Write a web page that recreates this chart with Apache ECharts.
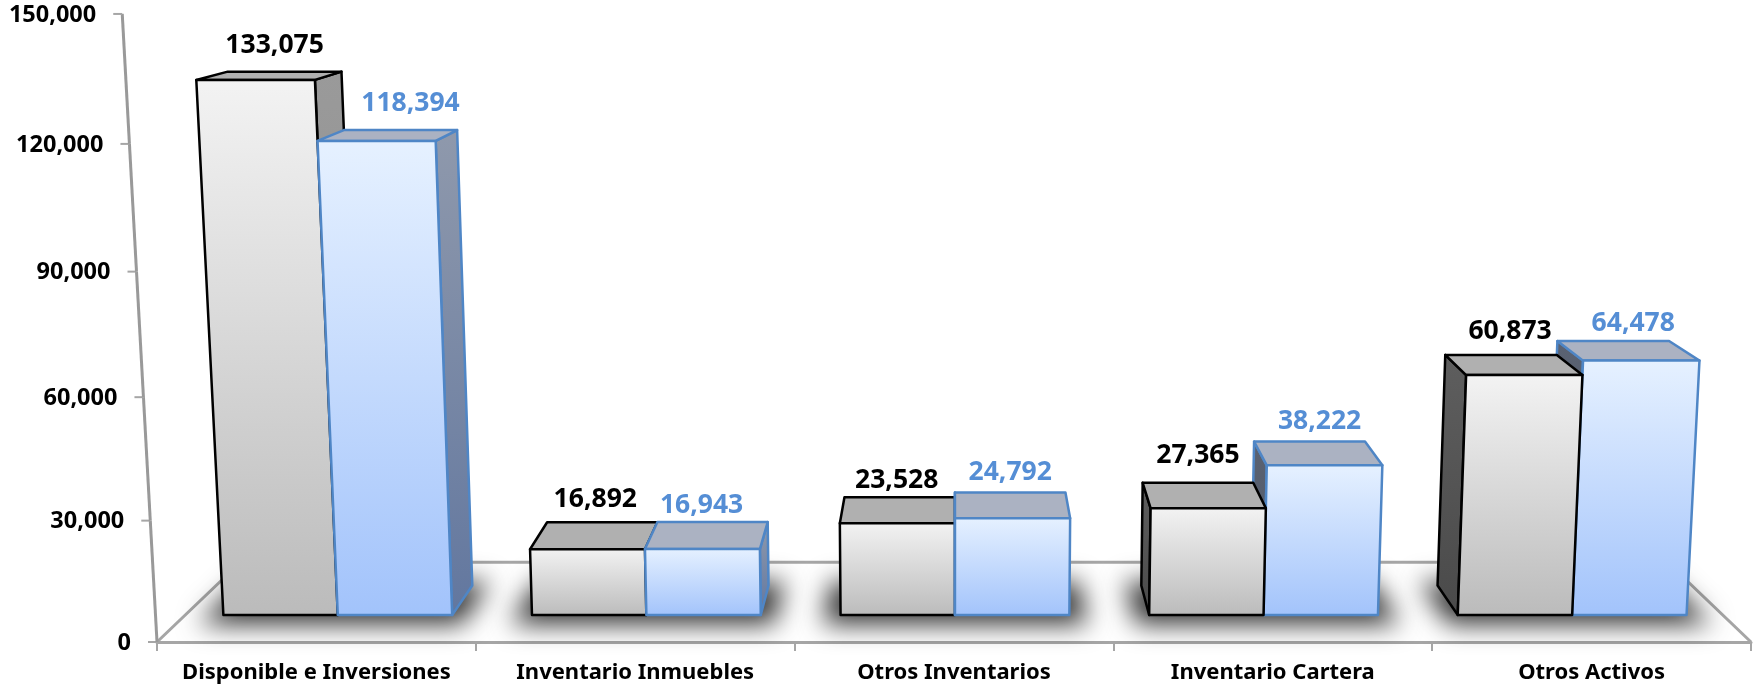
<!DOCTYPE html>
<html>
<head>
<meta charset="utf-8">
<title>Activos</title>
<script src="https://cdn.jsdelivr.net/npm/echarts@6/dist/echarts.min.js"></script>
<style>
  html, body { margin: 0; padding: 0; background: #fff; }
  #chart { width: 1758px; height: 692px; }
</style>
</head>
<body>
<div id="chart"></div>
<script>
"use strict";

const categories = ["Disponible e Inversiones", "Inventario Inmuebles", "Otros Inventarios", "Inventario Cartera", "Otros Activos"];
const blackValues = [133075, 16892, 23528, 27365, 60873];
const blueValues  = [118394, 16943, 24792, 38222, 64478];
const yTicks = [0, 30000, 60000, 90000, 120000, 150000];

// hand placed data labels, offset from the back top edge of each bar
const blackLabelNudge = [[-10, -26], [-7, -23], [-3, -17], [0, -27], [9, -23]];
const blueLabelNudge  = [[10, -27], [-11, -17], [0, -20], [10, -20], [20, -18]];

const FONT = '"Noto Sans", sans-serif';
const AXIS_GREY = "#A6A6A6";

/* ── perspective ── */
const FLOOR_Y = 642;
const CENTER_X = 954;
const TILT = 1 / 14400;          // verticals meet far below the chart
const V_Y = FLOOR_Y + 1 / TILT;
const HORIZON_Y = -120;
const Z_FRONT = 0.0367, Z_BACK = 0.08, Z_FLOOR_BACK = 0.117;
const BAR_RATIO = 0.372;
const OFFSCREEN = 4000;          // shadow caster sits off canvas so only its blur shows

function project(x, y, z) {
  const h = FLOOR_Y - y;
  const w = 1 - TILT * h + z;
  return [
    CENTER_X + (x - CENTER_X) / w,
    (FLOOR_Y - TILT * V_Y * h + z * HORIZON_Y) / w
  ];
}

function poly(points, style) {
  return { type: "polygon", shape: { points }, style };
}

function vGrad(top, bottom) {
  return new echarts.graphic.LinearGradient(0, 0, 0, 1, [
    { offset: 0, color: top },
    { offset: 1, color: bottom }
  ]);
}

const SKIN = [
  { front: ["#F3F3F3", "#BBBBBB"], top: "#B0B0B0", right: ["#9A9A9A", "#8A8A8A"], left: ["#5E5E5E", "#4A4A4A"], line: "#000000", lw: 2.5 },
  { front: ["#E6F1FF", "#A2C3FB"], top: "#ABB2C2", right: ["#8F99AC", "#62779F"], left: ["#5A6272", "#4F5868"], line: "#4F86C6", lw: 2.5 }
];

/* ── draw order: inner bar first left of centre, outer first right of it ── */
const barRows = [];
categories.forEach((c, i) => {
  const pair = [[i, 0, blackValues[i]], [i, 1, blueValues[i]]];
  if (i >= 3) pair.reverse();
  barRows.push(...pair);
});

// bar groups sit a touch wider apart than the axis bands
function groupCenter(api, cat) {
  const cx = api.coord([cat, 0])[0];
  return cx + 1 + (cx - CENTER_X) * 0.0035;
}

function barEdges(api, cat, side) {
  const band = api.size([1, 0])[0];
  const cx = groupCenter(api, cat);
  const w = band * BAR_RATIO;
  return side === 0 ? [cx - w, cx] : [cx, cx + w];
}

function renderBar(params, api) {
  const cat = api.value(0), side = api.value(1), val = api.value(2);
  const [xl, xr] = barEdges(api, cat, side);
  const yTop = api.coord([cat, val])[1];
  const skin = SKIN[side];
  const border = { stroke: skin.line, lineWidth: skin.lw, lineJoin: "round" };
  const children = [];

  if (xr < CENTER_X) {
    children.push(poly([
      project(xr, yTop, Z_FRONT), project(xr, yTop, Z_BACK),
      project(xr, FLOOR_Y, Z_BACK), project(xr, FLOOR_Y, Z_FRONT)
    ], { fill: vGrad(skin.right[0], skin.right[1]), ...border }));
  }
  if (xl > CENTER_X) {
    children.push(poly([
      project(xl, yTop, Z_FRONT), project(xl, yTop, Z_BACK),
      project(xl, FLOOR_Y, Z_BACK), project(xl, FLOOR_Y, Z_FRONT)
    ], { fill: vGrad(skin.left[0], skin.left[1]), ...border }));
  }
  children.push(poly([
    project(xl, yTop, Z_FRONT), project(xl, yTop, Z_BACK),
    project(xr, yTop, Z_BACK), project(xr, yTop, Z_FRONT)
  ], { fill: skin.top, ...border }));
  children.push(poly([
    project(xl, yTop, Z_FRONT), project(xr, yTop, Z_FRONT),
    project(xr, FLOOR_Y, Z_FRONT), project(xl, FLOOR_Y, Z_FRONT)
  ], { fill: vGrad(skin.front[0], skin.front[1]), ...border }));

  return { type: "group", children };
}

/* ── blurred floor shadow ── */
function renderShadow(params, api) {
  const cat = api.value(0);
  const band = api.size([1, 0])[0];
  const cx = groupCenter(api, cat);
  const w = band * BAR_RATIO + 16;
  const corners = [
    project(cx - w, FLOOR_Y, Z_FRONT - 0.013), project(cx + w, FLOOR_Y, Z_FRONT - 0.013),
    project(cx + w, FLOOR_Y, Z_BACK + 0.006), project(cx - w, FLOOR_Y, Z_BACK + 0.006)
  ].map(p => [p[0] - OFFSCREEN, p[1]]);
  return poly(corners, {
    fill: "#000",
    shadowBlur: 26,
    shadowColor: "rgba(0,0,0,0.8)",
    shadowOffsetX: OFFSCREEN
  });
}

function renderFloor(params, api) {
  const grid = params.coordSys;
  const xl = grid.x, xr = grid.x + grid.width;
  const a = project(xl, FLOOR_Y, 0), b = project(xl, FLOOR_Y, Z_FLOOR_BACK);
  const c = project(xr, FLOOR_Y, Z_FLOOR_BACK), d = project(xr, FLOOR_Y, 0);
  return {
    type: "polyline",
    shape: { points: [a, b, c, d] },
    style: { stroke: AXIS_GREY, lineWidth: 3, fill: null }
  };
}

function renderTick(params, api) {
  const grid = params.coordSys;
  const y = api.coord([0, api.value(0)])[1];
  const p = project(grid.x, y, 0);
  const children = [
    { type: "line", shape: { x1: p[0] - 9, y1: p[1], x2: p[0], y2: p[1] }, style: { stroke: AXIS_GREY, lineWidth: 2 } },
    {
      type: "text",
      style: {
        x: p[0] - 26, y: p[1] + 1,
        text: api.value(0).toLocaleString("en-US"),
        fill: "#000", font: `bold 23.5px ${FONT}`,
        align: "right", verticalAlign: "middle"
      }
    }
  ];
  if (params.dataIndex < yTicks.length - 1) {
    const top = api.coord([0, yTicks[params.dataIndex + 1]])[1];
    const q = project(grid.x, top, 0);
    children.push({ type: "line", shape: { x1: p[0], y1: p[1], x2: q[0], y2: q[1] }, style: { stroke: "#999999", lineWidth: 3 } });
  }
  return { type: "group", children };
}

function renderLabel(params, api) {
  const cat = api.value(0), side = api.value(1), val = api.value(2);
  const [xl, xr] = barEdges(api, cat, side);
  const yTop = api.coord([cat, val])[1];
  const p = project((xl + xr) / 2, yTop, Z_BACK);
  const nudge = (side === 0 ? blackLabelNudge : blueLabelNudge)[cat];
  return {
    type: "text",
    style: {
      x: p[0] + nudge[0], y: p[1] + nudge[1],
      text: val.toLocaleString("en-US"),
      fill: side === 0 ? "#000000" : "#558ED5",
      font: `bold 26.5px ${FONT}`,
      align: "center", verticalAlign: "middle"
    }
  };
}

const chart = echarts.init(document.getElementById("chart"));
chart.setOption({
  animation: false,
  backgroundColor: "#fff",
  tooltip: { show: false },
  grid: { left: 157, right: 7, top: 40.2, bottom: 50, containLabel: false },
  xAxis: {
    type: "category",
    data: categories,
    axisLine: { lineStyle: { color: AXIS_GREY, width: 3 } },
    axisTick: { show: true, interval: 0, alignWithLabel: false, length: 9, lineStyle: { color: AXIS_GREY, width: 2 } },
    axisLabel: { show: true, interval: 0, color: "#000", fontFamily: FONT, fontWeight: "bold", fontSize: 22, margin: 20 }
  },
  yAxis: { type: "value", min: 0, max: 150000, interval: 30000, show: false },
  series: [
    { type: "custom", clip: false, z: 1, data: [[0]], renderItem: renderFloor, silent: true },
    { type: "custom", clip: false, z: 2, data: categories.map((c, i) => [i]), encode: { x: 0 }, renderItem: renderShadow, silent: true },
    { type: "custom", clip: false, z: 3, data: barRows, encode: { x: 0, y: 2 }, renderItem: renderBar, silent: true },
    { type: "custom", clip: false, z: 4, data: yTicks.map(t => [t]), encode: { y: 0 }, renderItem: renderTick, silent: true },
    { type: "custom", clip: false, z: 5, data: barRows, encode: { x: 0, y: 2 }, renderItem: renderLabel, silent: true }
  ]
});
</script>
</body>
</html>
